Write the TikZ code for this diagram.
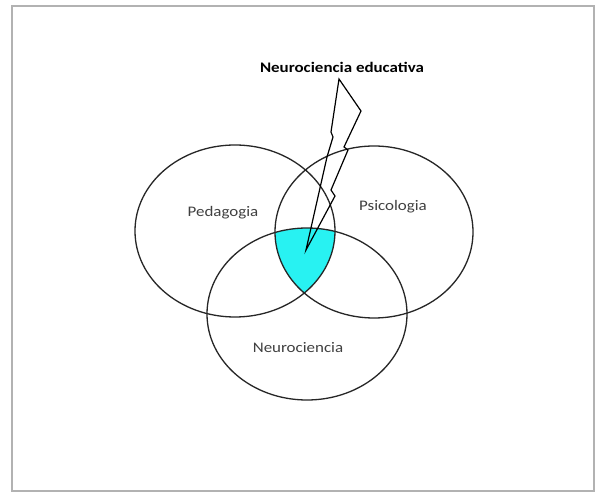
\documentclass[tikz,border=0pt]{standalone}
\usepackage{fontspec}
\setmainfont{Carlito}
\definecolor{aquafill}{RGB}{40,242,242}
\begin{document}
\begin{tikzpicture}[x=1pt,y=-1pt,
  venn/.style={draw=black!85,line width=1.3pt},
  lbl/.style={text=black!75,font=\fontsize{14.6}{16}\selectfont,inner sep=0pt},
  ttl/.style={text=black,font=\bfseries\fontsize{14.6}{16}\selectfont,inner sep=0pt},
  bolt/.style={draw=black,line width=1.2pt,line join=miter}]
\useasboundingbox (0,0) rectangle (598,494);
\fill[white] (0,0) rectangle (598,494);
\draw[black!30,line width=1.6pt] (12,6) rectangle (594,491);
\coordinate (cL) at (235,231);
\coordinate (cR) at (374,232);
\coordinate (cB) at (307,314);
% intersection fill
\begin{scope}
  \clip (cL) ellipse [x radius=100,y radius=86];
  \clip (cR) ellipse [x radius=99,y radius=86];
  \fill[aquafill] (cB) ellipse [x radius=100,y radius=86];
\end{scope}
\draw[venn] (cL) ellipse [x radius=100,y radius=86];
\draw[venn] (cR) ellipse [x radius=99,y radius=86];
\draw[venn] (cB) ellipse [x radius=100,y radius=86];
% lightning bolt
\coordinate (bA) at (339,79);
\coordinate (bB) at (361,111);
\coordinate (bC) at (344,147);
\coordinate (bD) at (348,150);
\coordinate (bE) at (331,190);
\coordinate (bF) at (335,196);
\coordinate (bT) at (306,250);
\coordinate (bG) at (327,157);
\coordinate (bH) at (333,137);
\coordinate (bI) at (331,132);
\draw[bolt] (bA) -- (bB) -- (bC) -- (bD) -- (bE) -- (bF) -- (bT) -- (bG) -- (bH) -- (bI) -- cycle;
% labels
\node[ttl] (title) at (342,67) {\scalebox{1.16}[1]{Neurociencia educativa}};
\node[lbl] (ped) at (223,213) {\scalebox{1.16}[1]{Pedagogia}};
\node[lbl] (psi) at (393,207) {\scalebox{1.16}[1]{Psicologia}};
\node[lbl] (neu) at (298,348) {\scalebox{1.16}[1]{Neurociencia}};
\end{tikzpicture}
\end{document}
